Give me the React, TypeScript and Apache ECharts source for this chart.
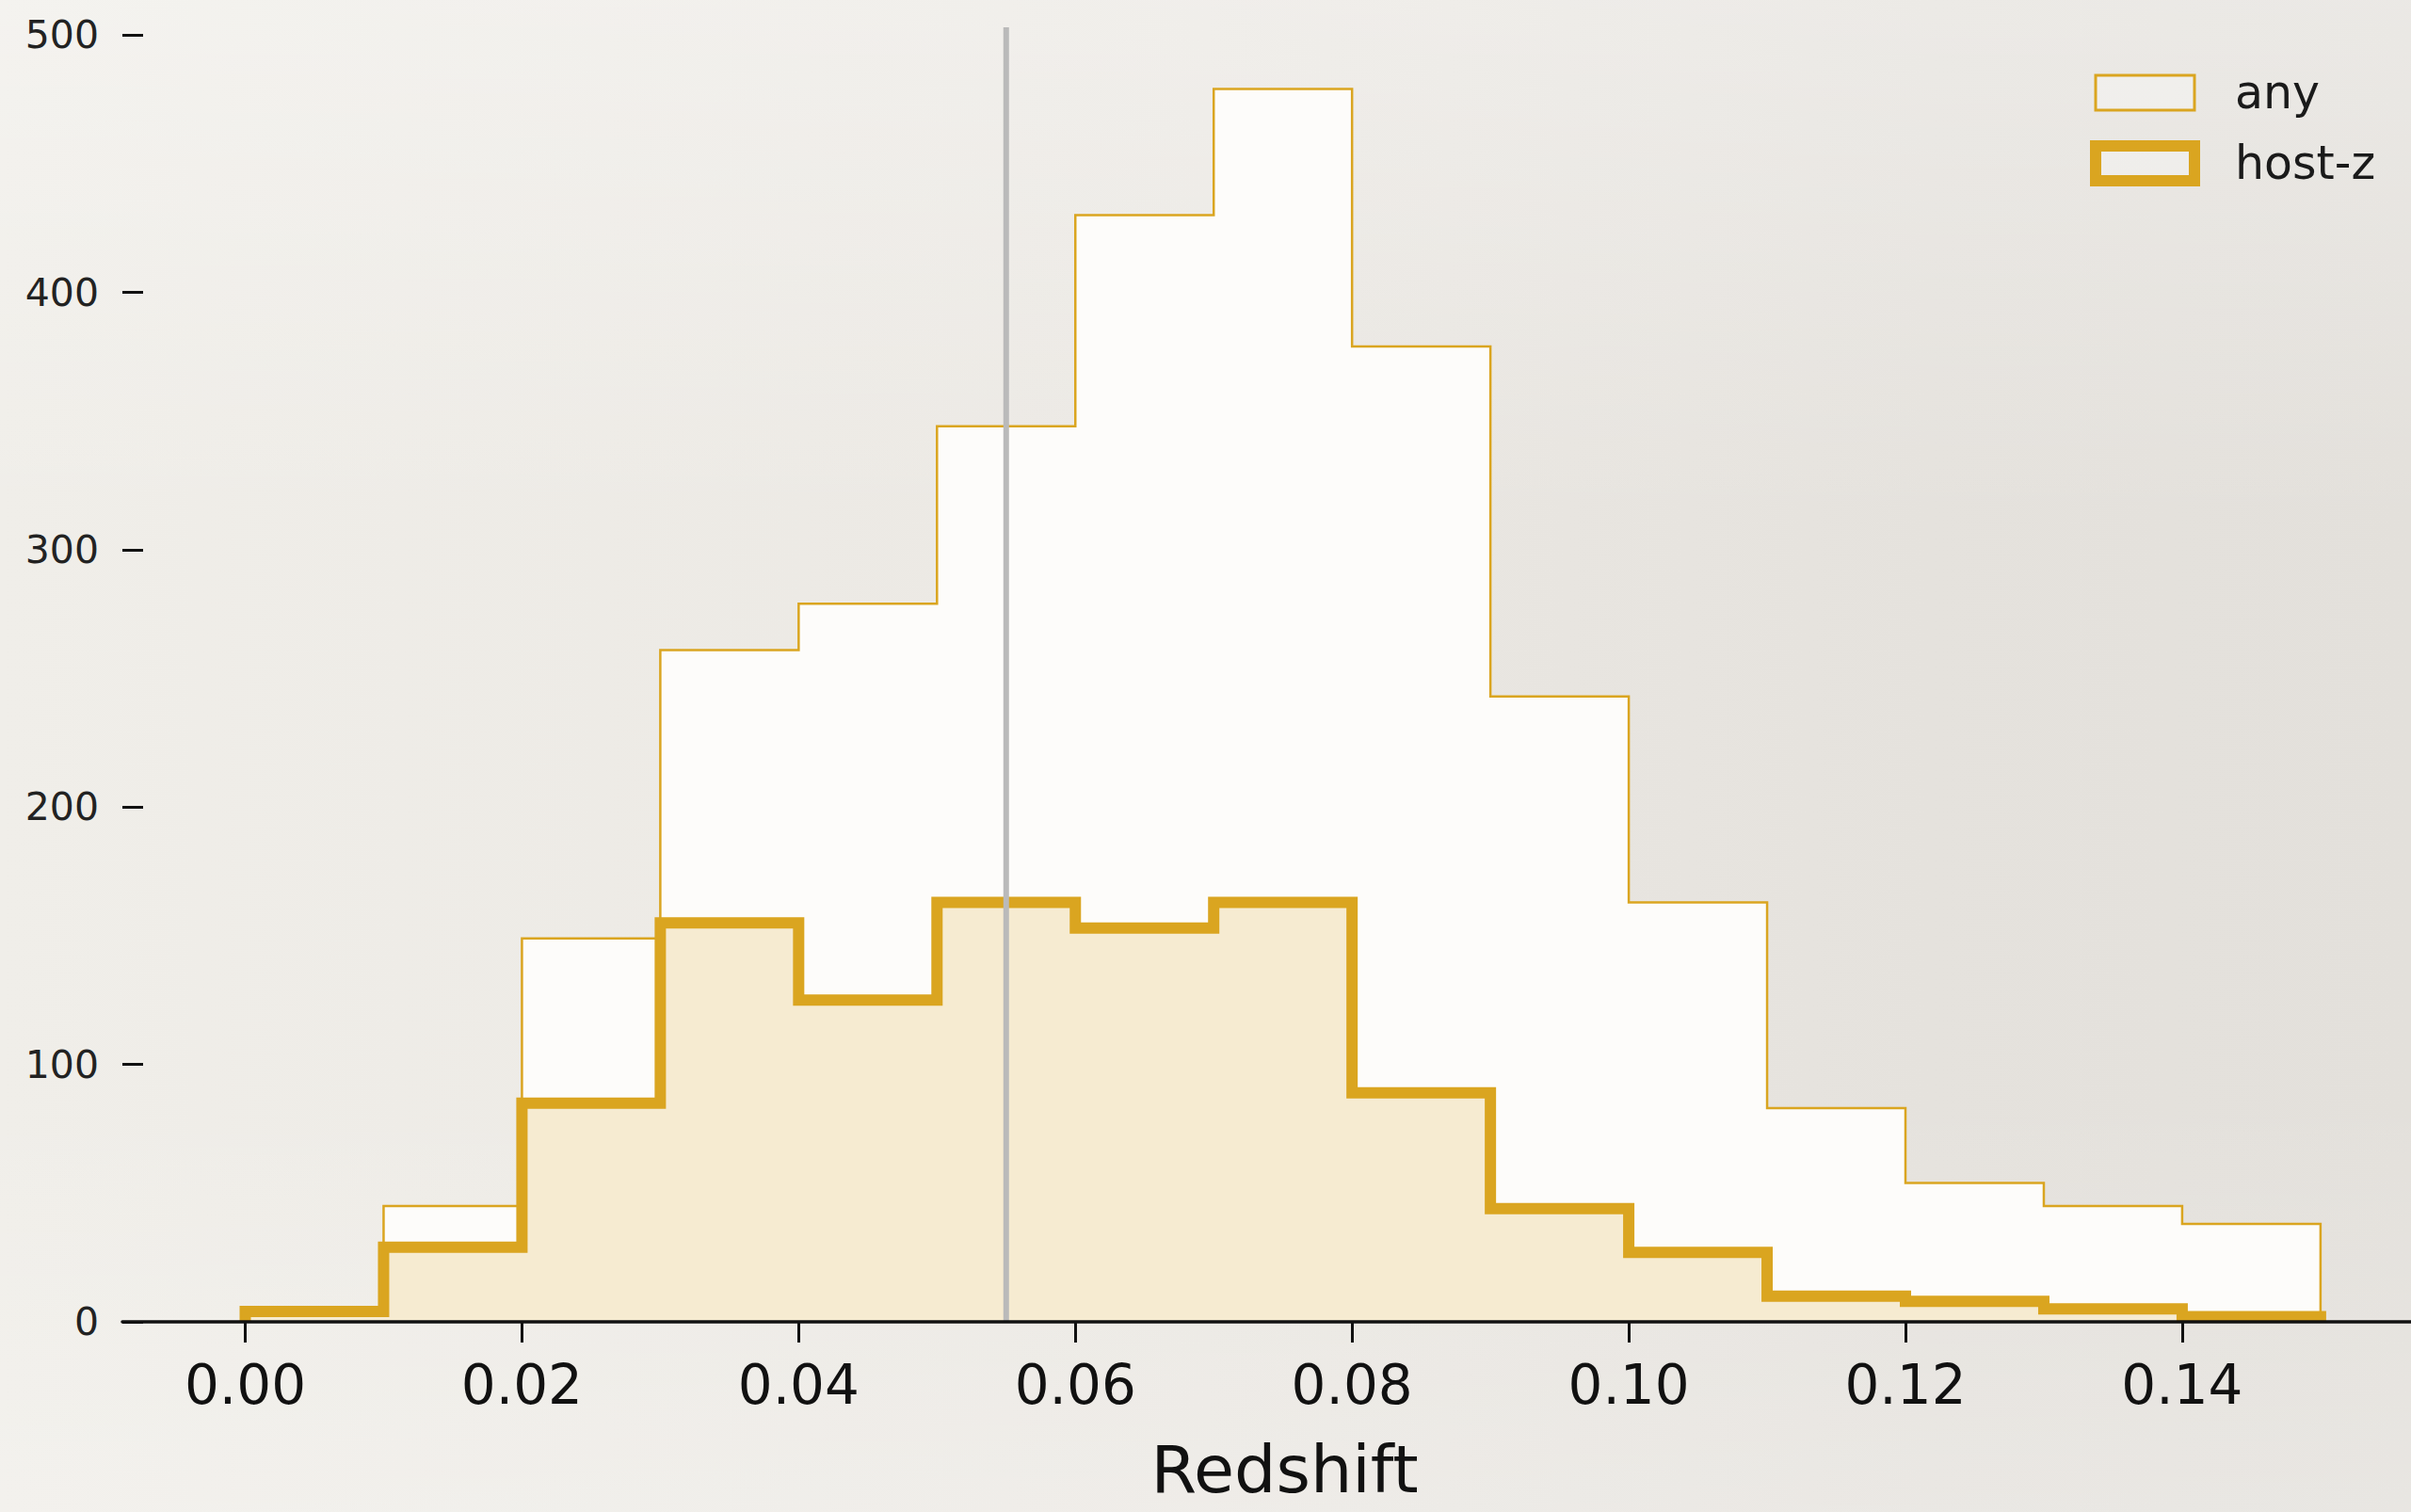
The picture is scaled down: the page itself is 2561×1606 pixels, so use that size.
import React, { useEffect, useRef } from "react";
import * as echarts from "echarts";

const binEdges = [0, 0.01, 0.02, 0.03, 0.04, 0.05, 0.06, 0.07, 0.08, 0.09, 0.1, 0.11, 0.12, 0.13, 0.14, 0.15];
const anyCounts = [5, 45, 149, 261, 279, 348, 430, 479, 379, 243, 163, 83, 54, 45, 38];
const hostCounts = [4, 29, 85, 155, 125, 163, 153, 163, 89, 44, 27, 10, 8, 5, 2];
const xTickValues = [0, 0.02, 0.04, 0.06, 0.08, 0.1, 0.12, 0.14];
const yTickValues = [0, 100, 200, 300, 400, 500];
const referenceRedshift = 0.055;
const seriesNames = ["any", "host-z"];

const GOLD = "#daa520";

function stepPoints(counts: number[]): number[][] {
  const pts: number[][] = [[binEdges[0], 0]];
  counts.forEach((c, i) => pts.push([binEdges[i], c]));
  pts.push([binEdges[counts.length], counts[counts.length - 1]]);
  pts.push([binEdges[counts.length], 0]);
  return pts;
}

export default function App() {
  const ref = useRef<HTMLDivElement>(null);
  useEffect(() => {
    if (!ref.current) return;
    const chart = echarts.init(ref.current, null, { renderer: "svg" });
    const yMax = 503;
    chart.setOption({
      animation: false,
      backgroundColor: "transparent",
      textStyle: { fontFamily: "DejaVu Sans" },
      grid: { left: 130, right: 0, top: 29, bottom: 202, containLabel: false, outerBoundsMode: "none" },
      legend: {
        orient: "vertical",
        left: 2215,
        top: 69,
        itemWidth: 105,
        itemHeight: 37,
        itemGap: 26,
        selectedMode: false,
        textStyle: { fontSize: 49, color: "#1a1a1a", fontFamily: "DejaVu Sans", padding: [0, 0, 0, 38] },
        data: [
          {
            name: seriesNames[0],
            icon: "rect",
            itemStyle: { color: "rgba(255,255,255,0.3)", borderColor: GOLD, borderWidth: 3 },
          },
          {
            name: seriesNames[1],
            icon: "rect",
            itemStyle: { color: "rgba(255,255,255,0.3)", borderColor: GOLD, borderWidth: 12 },
          },
        ],
      },
      xAxis: {
        type: "value",
        min: -0.00888,
        max: 0.15654,
        z: 10,
        name: "Redshift",
        nameLocation: "middle",
        nameGap: 122,
        nameTextStyle: {
          fontSize: 70,
          lineHeight: 70,
          color: "#111",
          fontFamily: "DejaVu Sans",
          padding: [0, 0, 0, 38],
        },
        axisLine: { show: true, onZero: false, lineStyle: { color: "#111", width: 3.5 } },
        axisTick: { show: true, length: 22, customValues: xTickValues, lineStyle: { color: "#111", width: 3 } },
        axisLabel: {
          customValues: xTickValues,
          fontSize: 58,
          color: "#111",
          margin: 38,
          formatter: (v: number) => v.toFixed(2),
        },
        splitLine: { show: false },
      },
      yAxis: {
        type: "value",
        min: 0,
        max: yMax,
        axisLine: { show: false, onZero: false },
        axisTick: {
          show: true,
          inside: true,
          length: 22,
          customValues: yTickValues,
          lineStyle: { color: "#111", width: 3 },
        },
        axisLabel: { customValues: yTickValues, fontSize: 41, color: "#222", margin: 25 },
        splitLine: { show: false },
      },
      series: [
        {
          name: seriesNames[0],
          type: "line",
          step: "end",
          symbol: "none",
          z: 2,
          data: stepPoints(anyCounts),
          itemStyle: { color: GOLD },
          lineStyle: { color: GOLD, width: 2.5, join: "miter" },
          areaStyle: { color: "#fdfcfa", opacity: 1 },
        },
        {
          name: seriesNames[1],
          type: "line",
          step: "end",
          symbol: "none",
          z: 3,
          data: stepPoints(hostCounts),
          itemStyle: { color: GOLD },
          lineStyle: { color: GOLD, width: 12, join: "miter" },
          areaStyle: { color: "#f6ebd1", opacity: 1 },
        },
        {
          name: "reference",
          type: "line",
          symbol: "none",
          z: 4,
          silent: true,
          data: [
            [referenceRedshift, 0],
            [referenceRedshift, yMax],
          ],
          lineStyle: { color: "#bababa", width: 6 },
        },
      ],
    });
    return () => chart.dispose();
  }, []);
  return (
    <div
      ref={ref}
      style={{
        position: "fixed",
        left: 0,
        top: 0,
        width: 2561,
        height: 1606,
        background:
          "linear-gradient(to bottom, rgba(255,255,255,0.28) 0%, rgba(255,255,255,0) 35%, rgba(255,255,255,0) 72%, rgba(255,255,255,0.2) 100%), linear-gradient(to right, #f0eee9 0%, #ebe8e3 50%, #e5e2dd 80%, #e3e0db 100%)",
      }}
    />
  );
}
